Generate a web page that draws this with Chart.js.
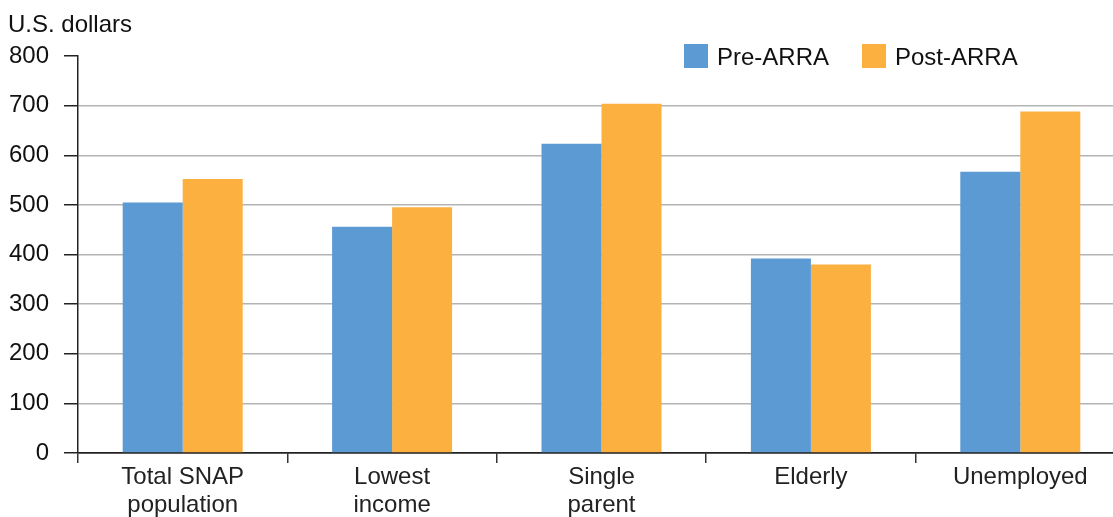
<!DOCTYPE html>
<html>
<head>
<meta charset="utf-8">
<script src="https://cdn.jsdelivr.net/npm/chart.js@4/dist/chart.umd.min.js"></script>
<style>
	html, body { margin: 0; padding: 0; background: #fff; overflow: hidden; }
	#wrap { width: 1113px; height: 517px; overflow: hidden; }
</style>
</head>
<body>
<div id="wrap"><canvas id="chart" width="1126" height="517"></canvas></div>
<script>
// Data
var categories = [
	[ 'Total SNAP', 'population' ],
	[ 'Lowest', 'income' ],
	[ 'Single', 'parent' ],
	'Elderly',
	'Unemployed'
];
var seriesNames = [ 'Pre-ARRA', 'Post-ARRA' ];
var preArra = [ 505, 456, 623, 392, 567 ];
var postArra = [ 552, 495, 704, 380, 688 ];
var yTicks = [ 0, 100, 200, 300, 400, 500, 600, 700, 800 ];
var yUnit = 'U.S. dollars';

var BLUE = '#5c9ad3',
	ORANGE = '#fbb040',
	FONT = '"Liberation Sans", Arial, Helvetica, sans-serif';

// Unit label in the top left corner
var unitLabel = {
	id: 'unitLabel',
	afterDraw: function ( chart ) {
		var ctx = chart.ctx;
		ctx.save();
		ctx.font = '24px ' + FONT;
		ctx.fillStyle = '#111';
		ctx.textAlign = 'left';
		ctx.textBaseline = 'alphabetic';
		ctx.fillText( yUnit, 8, 32 );
		ctx.restore();
	}
};

// Legend drawn by hand so it doesn't push the plot area around
var cornerLegend = {
	id: 'cornerLegend',
	afterDraw: function ( chart ) {
		var ctx = chart.ctx;
		var xs = [ 684, 862 ];
		ctx.save();
		ctx.font = '24px ' + FONT;
		ctx.textBaseline = 'middle';
		ctx.textAlign = 'left';
		chart.data.datasets.forEach( function ( ds, i ) {
			ctx.fillStyle = ds.backgroundColor;
			ctx.fillRect( xs[ i ], 44, 24, 24 );
			ctx.fillStyle = '#111';
			ctx.fillText( ds.label, xs[ i ] + 33, 58 );
		} );
		ctx.restore();
	}
};

// eslint-disable-next-line no-undef
new Chart( document.getElementById( 'chart' ), {
	type: 'bar',
	data: {
		labels: categories,
		datasets: [
			{ label: seriesNames[ 0 ], data: preArra, backgroundColor: BLUE },
			{ label: seriesNames[ 1 ], data: postArra, backgroundColor: ORANGE }
		]
	},
	options: {
		responsive: false,
		animation: false,
		devicePixelRatio: 1,
		layout: { padding: { top: 56, right: 1, left: 0, bottom: 0 } },
		datasets: {
			bar: { categoryPercentage: 0.573, barPercentage: 1, borderWidth: 0 }
		},
		plugins: {
			legend: { display: false },
			tooltip: { enabled: false }
		},
		scales: {
			x: {
				offset: true,
				grid: {
					offset: true,
					drawOnChartArea: false,
					color: '#333',
					tickColor: '#333',
					tickLength: 10,
					lineWidth: 1.5
				},
				border: { display: true, color: '#222', width: 1.5 },
				ticks: {
					color: '#222',
					padding: 1,
					maxRotation: 0,
					autoSkip: false,
					font: { family: FONT, size: 24, lineHeight: 1.15 }
				},
				afterFit: function ( scale ) { scale.height = 64; }
			},
			y: {
				min: 0,
				max: 800,
				afterBuildTicks: function ( scale ) {
					scale.ticks = yTicks.map( function ( v ) { return { value: v }; } );
				},
				grid: {
					color: function ( c ) {
						if ( c.tick && c.tick.value === 800 ) { return 'rgba(0,0,0,0)'; }
						if ( c.tick && c.tick.value === 0 ) { return '#222'; }
						return '#b4b4b4';
					},
					tickColor: '#222',
					tickLength: 14,
					lineWidth: 1.5
				},
				border: { display: true, color: '#222', width: 1.5 },
				ticks: {
					color: '#111',
					padding: 15,
					font: { family: FONT, size: 24 }
				},
				afterFit: function ( scale ) { scale.width = 78; }
			}
		}
	},
	plugins: [ unitLabel, cornerLegend ]
} );
</script>
</body>
</html>
